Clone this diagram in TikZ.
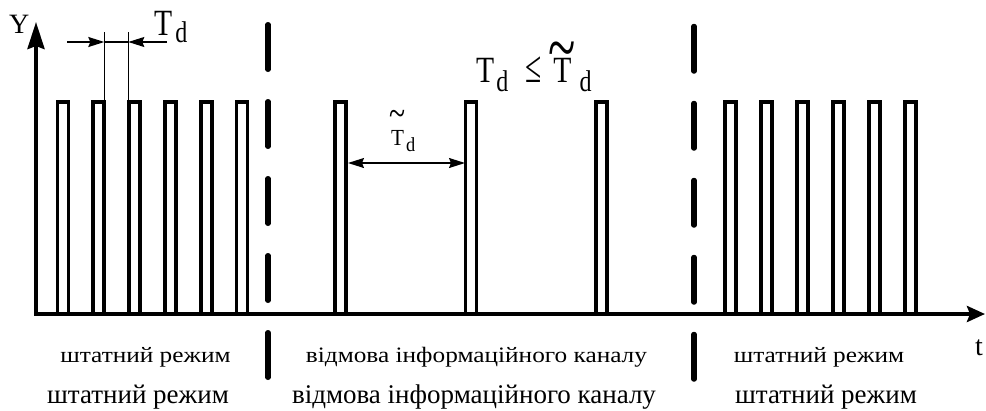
\documentclass[tikz,border=0pt]{standalone}
\usepackage{fontspec}
\setmainfont{Liberation Serif}
\newfontfamily\narrowserif[FakeStretch=0.8]{Liberation Serif}
\newfontfamily\midserif[FakeStretch=0.92]{Liberation Serif}
\newfontfamily\wideserif[FakeStretch=1.15]{Liberation Serif}
\usetikzlibrary{arrows.meta}
% T with a tilde raised by #1, tilde scaled by #2 x #3
\newcommand{\tilT}[3]{\setbox0\hbox{T}\setbox2\hbox{\scalebox{#2}[#3]{\char"7E}}%
  \hbox to \wd0{\hss\smash{\raisebox{\dimexpr #1-\ht2\relax}{\box2}}\hss}\kern-\wd0 T}
\newcommand{\subd}[2]{\raisebox{#2}{\fontsize{#1}{#1}\selectfont d}}
\begin{document}
\begin{tikzpicture}[x=1pt,y=-1pt,
  pulse/.style={line width=3.8pt,line join=miter},
  axisline/.style={line width=3.8pt},
  sep/.style={line width=5.5pt,line cap=round,dash pattern=on 44.5pt off 32.5pt},
  dim/.style={line width=1.3pt},
  lbl/.style={inner sep=0pt,anchor=base west},
  rowA/.style={inner sep=0pt,anchor=base,font=\wideserif\fontsize{22}{22}\selectfont},
  rowB/.style={inner sep=0pt,anchor=base,font=\fontsize{27}{27}\selectfont}]
\useasboundingbox (0,0) rectangle (986,410);
% axes
\coordinate (O) at (36,314);
\coordinate (ytip) at (36,22);
\coordinate (xtip) at (985,314);
\draw[axisline,{Stealth[length=27pt,width=17pt,inset=3pt]}-{Stealth[length=18pt,width=16pt,inset=3pt]}] (ytip) -- (O) -- (xtip);
% pulses
\foreach \x in {57.5,93.3,129.1,164.9,200.7,236.5,335,465.5,596,725,761,797,833,869,905}{
  \draw[pulse] (\x,314) -- (\x,102) -- (\x+11,102) -- (\x+11,314);
}
% separators
\coordinate (s1a) at (268,24.75);
\coordinate (s1b) at (268,377.25);
\coordinate (s2a) at (694,26.5);
\coordinate (s2b) at (694,379);
\draw[sep] (s1a) -- (s1b);
\draw[sep] (s2a) -- (s2b);
% T_d dimension
\coordinate (e1t) at (104.3,32);
\coordinate (e1b) at (104.3,102);
\coordinate (e2t) at (128.3,32);
\coordinate (e2b) at (128.3,102);
\coordinate (d1) at (67,42);
\coordinate (d1m) at (104.3,42);
\coordinate (d2m) at (128.3,42);
\coordinate (d2) at (167,42);
\draw[dim] (e1t) -- (e1b);
\draw[dim] (e2t) -- (e2b);
\draw[dim,-{Stealth[length=16pt,width=10pt,inset=2pt]}] (d1) -- (d1m);
\draw[dim,-{Stealth[length=16pt,width=10pt,inset=2pt]}] (d2) -- (d2m);
\draw[dim] (d1m) -- (d2m);
% T~_d dimension
\coordinate (m1) at (348,163);
\coordinate (m2) at (465,163);
\draw[dim,{Stealth[length=16pt,width=10pt,inset=2pt]}-{Stealth[length=16pt,width=10pt,inset=2pt]}] (m1) -- (m2);
% labels
\node[lbl,font=\fontsize{28}{28}\selectfont] (ylab) at (9,33) {Y};
\node[lbl,font=\fontsize{28}{28}\selectfont] (tlab) at (975,355) {t};
\node[lbl,font=\narrowserif\fontsize{37}{37}\selectfont] (tdlab) at (154,35) {T\hspace{3pt}\subd{30}{-7pt}};
\node[lbl,font=\narrowserif\fontsize{37}{37}\selectfont] (ineq) at (476,82) {T\hspace{2pt}\subd{30}{-9pt}\hspace{17pt}{\fontsize{32}{32}\selectfont\scalebox{1.15}[1.4]{≤}}\hspace{12pt}\tilT{10pt}{1.7}{2}\hspace{8pt}\subd{30}{-9pt}};
\node[lbl,font=\midserif\fontsize{23}{23}\selectfont] (ttdlab) at (391,145) {\tilT{19pt}{1.4}{1.7}\hspace{2pt}\subd{20}{-6pt}};
% bottom texts
\node[rowA] (a1) at (145.5,362) {штатний режим};
\node[rowA] (a2) at (476.5,362) {відмова інформаційного каналу};
\node[rowA] (a3) at (819,362) {штатний режим};
\node[rowB] (b1) at (138,403) {штатний режим};
\node[rowB] (b2) at (474,403) {відмова інформаційного каналу};
\node[rowB] (b3) at (826,403) {штатний режим};
\end{tikzpicture}
\end{document}
